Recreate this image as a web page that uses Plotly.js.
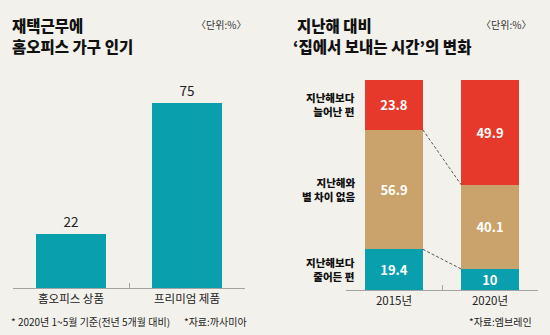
<!DOCTYPE html>
<html><head><meta charset="utf-8">
<script src="https://cdn.plot.ly/plotly-3.0.1.min.js"></script>
<style>html,body{margin:0;padding:0;background:#f2f1ec;}#chart{width:550px;height:335px;}</style>
</head><body><div id="chart"></div>
<script>
// ---- data ----
const leftCategories = ['홈오피스 상품', '프리미엄 제품'];
const leftValues = [22, 75];
const rightCategories = ['2015년', '2020년'];
const seriesNames = ['지난해보다<br>줄어든 편', '지난해와<br>별 차이 없음', '지난해보다<br>늘어난 편'];
const decreased = [19.4, 10];
const same = [56.9, 40.1];
const increased = [23.8, 49.9];

// ---- layout helpers ----
const W = 550, H = 335;
const px = x => x / W;
const py = y => 1 - y / H;
const KR = '"Noto Sans CJK KR", "Noto Sans", sans-serif';
const teal = '#0a9fac', tan = '#c9a36b', red = '#e6392b';
const ink = '#222';

const segText = {family:KR, size:13, color:'#fff', weight:700};
const traces = [
  {type:'bar', x:leftCategories, y:leftValues, xaxis:'x', yaxis:'y', width:0.6,
   marker:{color:teal}, text:leftValues.map(String), textposition:'outside', textangle:0,
   textfont:{family:KR, size:13.5, color:ink}, cliponaxis:false, hoverinfo:'none'},
  {type:'bar', x:rightCategories, y:decreased, xaxis:'x2', yaxis:'y2', width:0.6,
   marker:{color:teal}, text:decreased.map(String), textposition:'inside', insidetextanchor:'middle', textangle:0,
   constraintext:'none', textfont:segText, hoverinfo:'none'},
  {type:'bar', x:rightCategories, y:same, xaxis:'x2', yaxis:'y2', width:0.6,
   marker:{color:tan}, text:same.map(String), textposition:'inside', insidetextanchor:'middle', textangle:0,
   constraintext:'none', textfont:segText, hoverinfo:'none'},
  {type:'bar', x:rightCategories, y:increased, xaxis:'x2', yaxis:'y2', width:0.6,
   marker:{color:red}, text:increased.map(String), textposition:'inside', insidetextanchor:'middle', textangle:0,
   constraintext:'none', textfont:segText, hoverinfo:'none'}
];

const axisCommon = {type:'category', range:[-0.5,1.5], showline:true, linecolor:'#a3a3a3', linewidth:1,
  ticks:'inside', tickson:'boundaries', ticklen:5, tickcolor:'#a3a3a3', showgrid:false, zeroline:false,
  fixedrange:true};

// cumulative boundaries for connector lines
const b1 = decreased.slice();
const b2 = decreased.map((v,i)=>v+same[i]);

const annotations = [];
const titleFont = {family:KR, size:15.5, color:'#111', weight:900};
const noteFont = {family:KR, size:10, color:'#222'};
const unitFont = {family:KR, size:10, color:'#333'};
function ann(text, x, y, xanchor, font) {
  annotations.push({text:text, xref:'paper', yref:'paper', x:px(x), y:py(y), xanchor:xanchor, yanchor:'middle',
    showarrow:false, font:font});
}
ann('재택근무에', 10, 25, 'left', titleFont);
ann('홈오피스 가구 인기', 10, 46, 'left', titleFont);
ann('지난해 대비', 295, 25, 'left', titleFont);
ann('‘집에서 보내는 시간’의 변화', 291, 46, 'left', titleFont);
ann('〈단위:%〉', 248, 25, 'right', unitFont);
ann('〈단위:%〉', 533, 25, 'right', unitFont);
ann('* 2020년 1~5월 기준(전년 5개월 대비)', 9, 321, 'left', noteFont);
ann('*자료:까사미아', 249, 321, 'right', noteFont);
ann('*자료:엠브레인', 534, 321, 'right', noteFont);

// row labels for right chart, aligned to 2015 segment midpoints
const mids = [decreased[0]/2, decreased[0]+same[0]/2, decreased[0]+same[0]+increased[0]/2];
seriesNames.forEach((n,i)=>{
  annotations.push({text:n, xref:'paper', yref:'y2', x:px(357), y:mids[i], xanchor:'right', yanchor:'middle',
    align:'right', showarrow:false, font:{family:KR, size:10.5, color:'#111', weight:900}});
});

const shapes = [
  {type:'line', xref:'x2', yref:'y2', x0:0.3, x1:0.7, y0:b2[0], y1:b2[1], line:{color:'#555', width:1, dash:'3px,2px'}},
  {type:'line', xref:'x2', yref:'y2', x0:0.3, x1:0.7, y0:b1[0], y1:b1[1], line:{color:'#555', width:1, dash:'3px,2px'}}
];

const layout = {
  width:W, height:H, margin:{l:0, r:0, t:0, b:0},
  paper_bgcolor:'#f2f1ec', plot_bgcolor:'rgba(0,0,0,0)',
  barmode:'stack', showlegend:false,
  font:{family:KR, color:'#333'},
  xaxis:Object.assign({}, axisCommon, {domain:[px(13), px(245)], anchor:'y',
    tickfont:{family:KR, size:11.5, color:'#222'}}),
  yaxis:{domain:[py(288), py(60)], range:[0, 75*228/185], visible:false, fixedrange:true},
  xaxis2:Object.assign({}, axisCommon, {domain:[px(346), px(538)], anchor:'y2',
    tickfont:{family:KR, size:11.5, color:'#222'}}),
  yaxis2:{domain:[py(290), py(80)], range:[0, 100], visible:false, fixedrange:true},
  annotations:annotations, shapes:shapes
};

Plotly.newPlot('chart', traces, layout, {displayModeBar:false, staticPlot:true});
</script></body></html>
